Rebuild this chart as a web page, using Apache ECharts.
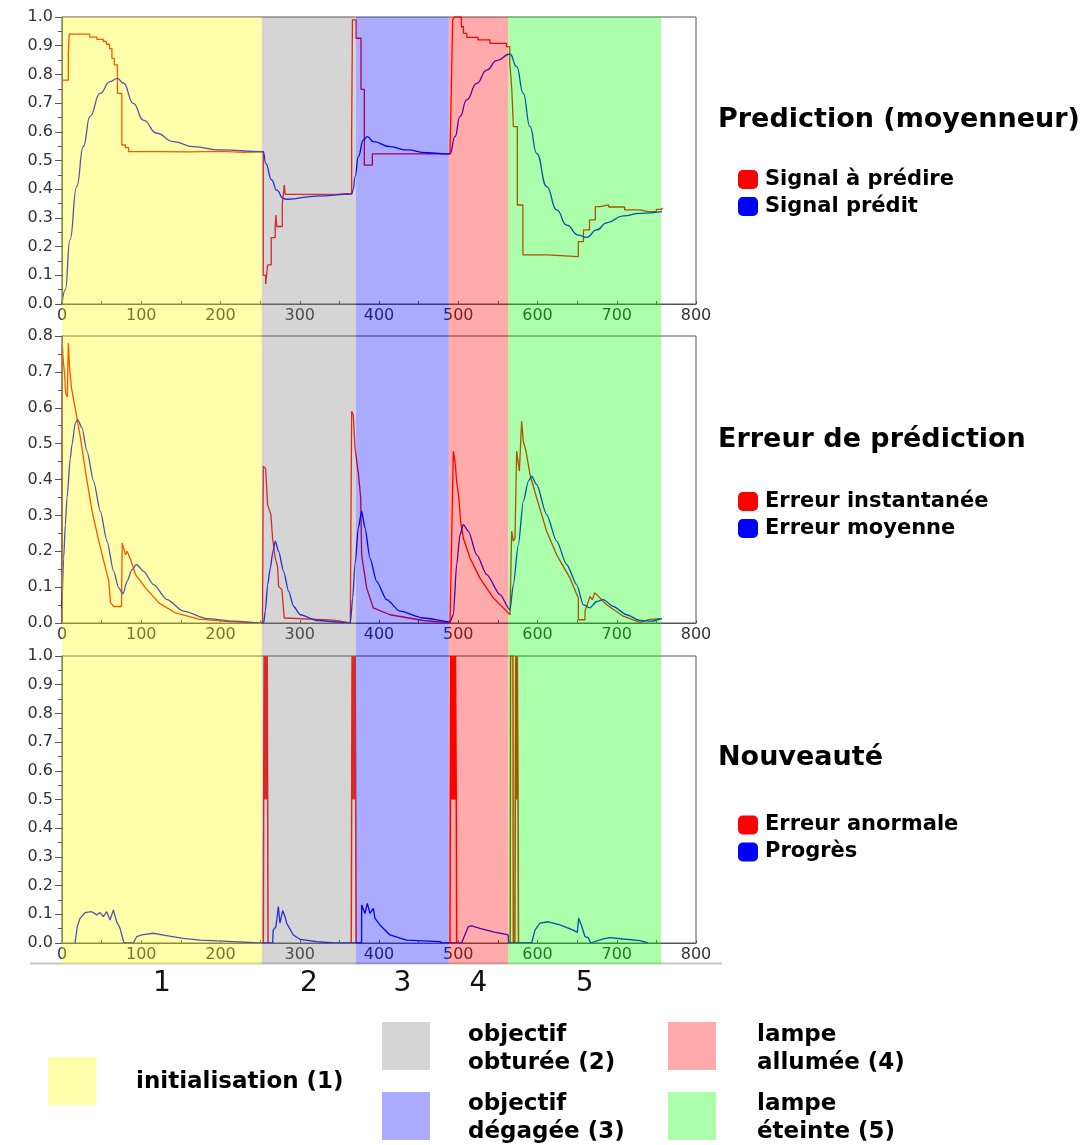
<!DOCTYPE html>
<html><head><meta charset="utf-8">
<script src="https://cdn.jsdelivr.net/npm/echarts@6/dist/echarts.min.js"></script>
<style>html,body{margin:0;padding:0;background:#fff}#c{width:1084px;height:1145px}</style>
</head><body><div id="c"></div>
<script>
// ---------- data ----------
const phaseNames = ['1', '2', '3', '4', '5'];
const phaseStart = [0, 252, 371, 488, 563];
const phaseEnd = [252, 371, 488, 563, 756];
const phaseLegend = ['initialisation (1)', 'objectif\nobturée (2)', 'objectif\ndégagée (3)', 'lampe\nallumée (4)', 'lampe\néteinte (5)'];

const plotTitles = ['Prediction (moyenneur)', 'Erreur de prédiction', 'Nouveauté'];
const seriesNames = [['Signal à prédire', 'Signal prédit'], ['Erreur instantanée', 'Erreur moyenne'], ['Erreur anormale', 'Progrès']];
const yMax = [1.0, 0.8, 1.0];

const sigRed = [[0,0.78],[8,0.87],[9,0.94],[24,0.94],[35,0.93],[44,0.922],[52,0.915],[56,0.905],[60,0.89],[63,0.856],[66,0.833],[70,0.734],[75.5,0.554],[80,0.545],[84,0.531],[120,0.53],[160,0.532],[200,0.528],[230,0.531],[254,0.1],[257,0.07],[259.5,0.136],[264,0.231],[269,0.27],[270,0.31],[271,0.27],[278,0.348],[280.5,0.415],[281.5,0.382],[320,0.383],[350,0.385],[365.5,0.6],[366.5,0.99],[371,0.926],[377.3,0.748],[381.5,0.484],[391.6,0.523],[430,0.523],[489.6,0.525],[491,0.72],[493,0.99],[495,1.0],[504,0.966],[506.6,0.943],[510.8,0.929],[525,0.92],[540,0.908],[561,0.897],[565,0.84],[567.5,0.752],[569.6,0.618],[574.6,0.345],[581.6,0.171],[612,0.165],[651.5,0.217],[658,0.258],[665.6,0.293],[673,0.339],[679,0.345],[690,0.338],[710,0.328],[729,0.322],[740,0.322],[750,0.33],[757,0.335]];

const sigBlue = [[0,0],[4.2,0.049],[10,0.223],[18.5,0.409],[26.9,0.548],[35.3,0.653],[48,0.734],[60.6,0.775],[69.8,0.786],[77.4,0.77],[90,0.699],[102.6,0.641],[119.5,0.595],[140.5,0.566],[165.7,0.548],[199.4,0.537],[254,0.531],[257,0.49],[264.6,0.432],[270.9,0.397],[279.3,0.368],[283.5,0.365],[321.4,0.376],[365.5,0.383],[367.6,0.40],[369.7,0.443],[373.9,0.513],[380.2,0.571],[385.3,0.583],[392.8,0.566],[413.9,0.548],[435,0.537],[460.2,0.527],[489.6,0.523],[495.9,0.583],[502.2,0.653],[510.6,0.711],[523.3,0.769],[535.9,0.815],[548.5,0.848],[565.3,0.871],[573.7,0.827],[582,0.734],[590.5,0.618],[598.9,0.525],[611.6,0.409],[624.2,0.328],[636.8,0.275],[651.5,0.24],[662,0.232],[674.7,0.258],[687.3,0.283],[708.3,0.307],[729.3,0.316],[757,0.322]];

const errRed = [[0,0.0],[0.5,0.776],[1.3,0.739],[3.4,0.69],[4.6,0.64],[6.7,0.63],[8,0.78],[9.6,0.71],[12,0.655],[17,0.595],[23.3,0.516],[29.6,0.423],[38,0.311],[46.4,0.228],[54.9,0.153],[59.1,0.116],[61.2,0.056],[65.4,0.046],[75.1,0.046],[75.9,0.223],[80.1,0.19],[82.2,0.2],[86.5,0.177],[92.8,0.135],[105.4,0.098],[122.2,0.056],[143.2,0.028],[172.7,0.011],[214.7,0.003],[253,0.0],[254,0.437],[257,0.43],[259.4,0.33],[263.6,0.302],[265.7,0.237],[269,0.181],[272,0.158],[273.3,0.102],[277.5,0.093],[280.4,0.014],[342.8,0.008],[363.8,0.0],[365.5,0.59],[367.6,0.58],[369.7,0.488],[373.9,0.418],[376.9,0.349],[378.1,0.19],[384.4,0.098],[392.8,0.042],[413.9,0.023],[456,0.007],[489.6,0.0],[493.8,0.479],[495.9,0.45],[498,0.395],[501,0.344],[503,0.283],[506.4,0.237],[514.8,0.181],[527.4,0.125],[544.2,0.07],[561,0.033],[565.3,0.023],[567.4,0.256],[569.5,0.228],[571.6,0.237],[573.7,0.479],[577.1,0.423],[580,0.562],[582.1,0.506],[585.5,0.479],[590.5,0.414],[598.9,0.349],[611.5,0.256],[624.2,0.19],[641,0.125],[651.5,0.07],[651.6,0.009],[659.9,0.009],[660,0.033],[666.2,0.074],[669,0.065],[672.5,0.084],[687.2,0.051],[708.2,0.019],[729.2,0.002],[741.8,0.01],[756.5,0.012]];

const errBlue = [[0,0.042],[2.1,0.181],[4.2,0.274],[6.3,0.349],[10.5,0.46],[12.6,0.497],[16.8,0.558],[19.8,0.567],[25.2,0.544],[31.5,0.479],[39.9,0.395],[48.4,0.311],[56.8,0.228],[65.2,0.144],[71.5,0.098],[77,0.081],[82,0.116],[88.3,0.149],[93.8,0.163],[103,0.144],[115.6,0.107],[132.5,0.065],[153.5,0.033],[183,0.012],[216.6,0.005],[254.4,0.0],[256.5,0.033],[259.5,0.107],[262.8,0.153],[266.2,0.2],[269.1,0.228],[273.3,0.2],[279.6,0.144],[286,0.088],[292.3,0.046],[300.7,0.023],[321.7,0.007],[363.8,0.0],[366.8,0.07],[369.7,0.163],[373.9,0.265],[378.1,0.311],[382.3,0.265],[388.6,0.181],[397,0.116],[409.6,0.065],[426.4,0.033],[456,0.014],[489.6,0.003],[493.8,0.023],[498,0.163],[502.2,0.246],[506.4,0.274],[512.7,0.256],[523.3,0.19],[535.9,0.135],[552.7,0.079],[565.3,0.037],[569.5,0.107],[575.8,0.218],[582.1,0.339],[588.4,0.395],[592.6,0.409],[598.9,0.386],[611.5,0.302],[624.2,0.228],[636.8,0.163],[649.4,0.107],[657.8,0.051],[666.2,0.042],[674.6,0.06],[683,0.065],[695.6,0.046],[712.5,0.023],[729.3,0.007],[744,0.005],[756.6,0.012]];

const novRed = [[254,0],[254.5,0.5],[255,1],[256,0.5],[257,1],[258,0.5],[259,1],[259.5,0.5],[260,0],[262,null],[365,0],[365.5,0.5],[366,1],[367,0.5],[368,1],[369,0.5],[370,1],[370.5,0.5],[371,0],[373,null],[489.5,0],[490,0.5],[490.5,1],[491.5,0.5],[492.5,1],[493.5,0.5],[494.5,1],[495.5,0.5],[496.5,1],[497.5,0.5],[498,0],[500,null],[565.5,0],[566,1],[569,1],[569.5,0],[570.5,null],[571.5,0],[572,0.5],[572.5,1],[573.5,0.5],[574.5,1],[575.5,0.5],[576,0]];

const novBlue = [[16.4,0],[19.3,0.057],[22.7,0.086],[29,0.106],[37.5,0.109],[43.7,0.098],[48,0.106],[52.2,0.092],[56.4,0.109],[60.6,0.08],[64.8,0.115],[69,0.074],[73.2,0.051],[78.2,0],[90,0],[94.2,0.022],[100.5,0.028],[115.2,0.034],[132,0.026],[153,0.016],[174.3,0.01],[216.3,0.005],[250,0],[265.8,0],[266.5,0.045],[270,0.057],[273,0.127],[275,0.069],[278.4,0.113],[281.4,0.092],[283.5,0.069],[291.9,0.028],[300.3,0.013],[321.3,0.005],[342.4,0],[378,0],[378.1,0.132],[382.3,0.103],[385.3,0.138],[388.6,0.103],[392.8,0.121],[394.9,0.086],[401.2,0.063],[413.8,0.028],[434.8,0.01],[476.9,0.005],[480,0],[504.2,0],[512.6,0.057],[516.8,0.06],[527.3,0.051],[544.2,0.039],[563.1,0.028],[563.5,0],[592.6,0],[596.8,0.045],[603.1,0.069],[613.6,0.074],[628.3,0.063],[645.2,0.045],[650.2,0.037],[651.9,0.086],[655.7,0.059],[659.9,0.022],[664,0.019],[667,0],[683,0.014],[691.4,0.019],[708.2,0.014],[729.2,0.008],[739.7,0]];

// ---------- styles ----------
const RED = '#ff0000', BLUE = '#0000ff';
const phaseColors = ['rgba(255,255,0,0.33)', 'rgba(128,128,128,0.33)', 'rgba(0,0,255,0.33)', 'rgba(255,0,0,0.33)', 'rgba(0,255,0,0.33)'];
const FONT = 'DejaVu Sans';
const gridTops = [17, 336, 656];
const GRID_LEFT = 62, GRID_W = 634, GRID_H = 287;

const grids = gridTops.map(t => ({left: GRID_LEFT, top: t, width: GRID_W, height: GRID_H, show: true, borderColor: '#555', borderWidth: 1, backgroundColor: 'transparent'}));
grids.push({left: GRID_LEFT, top: 17, width: GRID_W, height: 947, show: false});

const axisCol = '#555';
const xAxes = [0,1,2].map(i => ({
  type: 'value', gridIndex: i, min: 0, max: 800, interval: 50, z: 6,
  axisLine: {show: true, onZero: false, lineStyle: {color: axisCol}},
  axisTick: {show: true, inside: true, length: 3, lineStyle: {color: axisCol}},
  splitLine: {show: false},
  axisLabel: {margin: 4, color: '#333', fontFamily: FONT, fontSize: 16, formatter: v => (v % 100 === 0 ? String(v) : '')}
}));
xAxes.push({type: 'value', gridIndex: 3, min: 0, max: 800, show: false});

const yAxes = [0,1,2].map(i => ({
  type: 'value', gridIndex: i, min: 0, max: yMax[i], interval: 0.1, z: 6,
  axisLine: {show: true, lineStyle: {color: axisCol}},
  axisTick: {show: true, length: 7, lineStyle: {color: axisCol}},
  minorTick: {show: true, splitNumber: 2, length: 4, lineStyle: {color: axisCol}},
  splitLine: {show: false},
  axisLabel: {margin: 9, color: '#333', fontFamily: FONT, fontSize: 16, formatter: v => v.toFixed(1)}
}));
yAxes.push({type: 'value', gridIndex: 3, min: 0, max: 1, show: false});

function lineSeries(name, idx, data, color, extra) {
  return Object.assign({
    name: name, type: 'line', xAxisIndex: idx, yAxisIndex: idx, data: data,
    symbol: 'none', showSymbol: false, color: color, connectNulls: false,
    lineStyle: {color: color, width: 1.3}, z: 3
  }, extra || {});
}

const series = [
  lineSeries(seriesNames[0][0], 0, sigRed, RED, {step: 'end'}),
  lineSeries(seriesNames[0][1], 0, sigBlue, BLUE, {smooth: 0.5, smoothMonotone: 'x'}),
  lineSeries(seriesNames[1][0], 1, errRed, RED),
  lineSeries(seriesNames[1][1], 1, errBlue, BLUE, {smooth: 0.25, smoothMonotone: 'x'}),
  lineSeries(seriesNames[2][0], 2, novRed, RED, {lineStyle: {color: RED, width: 1.5}}),
  lineSeries(seriesNames[2][1], 2, novBlue, BLUE),
  {
    type: 'line', xAxisIndex: 3, yAxisIndex: 3, data: [[0, 0]], symbol: 'none',
    lineStyle: {opacity: 0}, silent: true, z: 100,
    markArea: {
      silent: true, z: 100,
      label: {show: true, position: 'bottom', distance: 6, fontFamily: FONT, fontSize: 28, color: '#111'},
      data: phaseStart.map((s, i) => [
        {name: phaseNames[i], xAxis: s, itemStyle: {color: phaseColors[i]}},
        {xAxis: phaseEnd[i]}
      ])
    }
  }
];

const titleTops = [106.5, 426.5, 744.5];
const titles = plotTitles.map((t, i) => ({
  text: t, left: 718, top: titleTops[i], padding: 0,
  textStyle: {fontFamily: FONT, fontWeight: 'bold', fontSize: 27, color: '#000'}
}));

const legendTops = [169, 491, 814.5];
const legends = seriesNames.map((names, i) => ({
  data: names, orient: 'vertical', left: 738, top: legendTops[i], padding: 0,
  icon: 'roundRect', itemWidth: 20, itemHeight: 19, itemGap: 6, selectedMode: false,
  textStyle: {fontFamily: FONT, fontWeight: 'bold', fontSize: 21, color: '#000', padding: [0, 0, 0, 2]}
}));

// bottom phase legend (boxes + labels)
const legBox = [[48, 1057], [382, 1022], [382, 1092], [668, 1022], [668, 1092]];
const legText = [[136, 1082], [468, 1049.5], [468, 1118], [757, 1049.5], [757, 1118]];
const graphics = [{type: 'line', z: 1, shape: {x1: 30, y1: 963.5, x2: 722, y2: 963.5}, style: {stroke: '#c8c8c8', lineWidth: 2}}];
phaseLegend.forEach((txt, i) => {
  graphics.push({type: 'rect', shape: {x: legBox[i][0], y: legBox[i][1], width: 48, height: 48}, style: {fill: phaseColors[i]}});
  graphics.push({type: 'text', x: legText[i][0], y: legText[i][1], style: {text: txt, font: 'bold 23px "DejaVu Sans"', fill: '#000', lineHeight: 28, verticalAlign: 'middle', align: 'left'}});
});

const chart = echarts.init(document.getElementById('c'));
chart.setOption({
  animation: false,
  backgroundColor: '#fff',
  title: titles,
  legend: legends,
  grid: grids,
  xAxis: xAxes,
  yAxis: yAxes,
  series: series,
  graphic: graphics
});
</script>
</body></html>
